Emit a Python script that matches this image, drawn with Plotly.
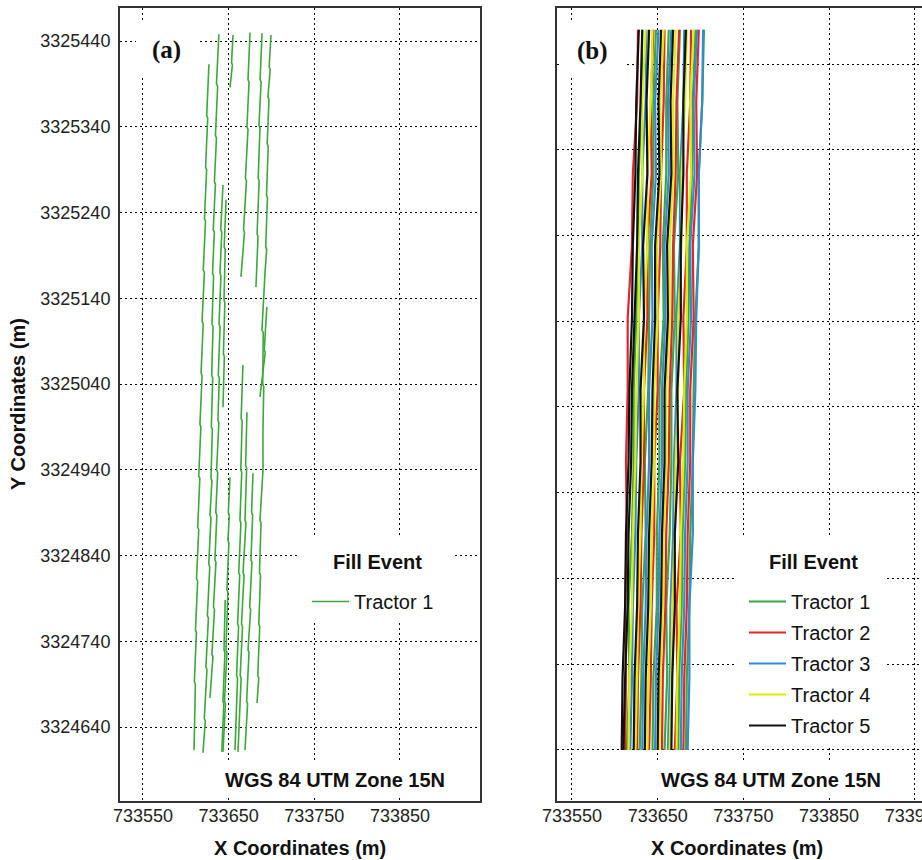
import plotly.graph_objects as go

# ---------------- data ----------------
E0 = 733600      # easting origin of the offset lists (m)
N0 = 3324600     # northing origin of the offset lists (m)

# Panel (a): Tractor 1 fill-event tracks, read from the map
# (easting / northing offsets in m from E0 / N0)
A_T1_N = [813, 753, 750, 693, 690, 633, 630, 573, 570, 513, 510, 453, 450, 393, 390,
          333, 330, 273, 270, 213, 210, 153, 150, 93, 90, 13]
A_T1_E = [27.0, 24.4, 25.6, 23.1, 24.3, 21.8, 23.0, 20.4, 21.7, 19.0, 20.3, 17.8, 19.0,
          16.5, 17.6, 15.1, 16.4, 13.9, 15.1, 12.5, 13.8, 11.3, 12.4, 10.0, 11.2, 9.6]
A_T2_N = [848, 790, 787, 730, 727, 676, 673, 620, 617, 569, 566, 510, 507, 450, 447,
          390, 387, 330, 327, 287, 284, 230, 227, 170, 167, 110, 107, 50, 47, 10]
A_T2_E = [38.6, 35.8, 37.2, 34.6, 35.8, 33.4, 34.6, 32.0, 33.3, 31.2, 32.4, 30.6, 31.8,
          30.2, 31.4, 29.8, 31.0, 29.4, 30.5, 28.2, 29.4, 26.8, 28.0, 25.2, 26.4, 23.5,
          24.7, 21.6, 22.8, 20.0]
A_T3_N = [672, 620, 617, 569, 566, 510, 507, 450, 447, 398, 395, 340, 337, 290, 287,
          235, 232, 180, 177, 125, 122, 74]
A_T3_E = [43.4, 40.8, 42.0, 39.9, 41.0, 38.8, 40.0, 37.9, 39.1, 37.5, 38.6, 36.0, 37.2,
          35.0, 36.2, 34.0, 35.2, 32.3, 33.5, 30.5, 31.7, 28.2]
A_T4_N = [655, 600, 597, 538, 535, 475, 472, 413]
A_T4_E = [47.0, 44.8, 46.0, 44.6, 45.6, 43.9, 45.0, 43.4]
A_T5_N = [331, 290, 287, 258, 255, 200, 197, 130, 127, 70, 67, 11]
A_T5_E = [51.6, 49.6, 50.8, 49.2, 50.3, 48.0, 49.1, 46.9, 48.0, 45.2, 46.3, 43.4]
A_T6_N = [188, 130, 127, 70, 67, 11]
A_T6_E = [46.0, 44.6, 45.7, 43.4, 44.4, 42.0]
A_T7_N = [847, 815, 812, 786]
A_T7_E = [55.1, 53.4, 54.4, 51.6]
A_T8_N = [850, 795, 792, 740, 737, 680, 677, 620, 617, 565]
A_T8_E = [75.0, 72.6, 73.8, 71.4, 72.6, 69.6, 70.8, 67.4, 68.5, 64.4]
A_T9_N = [849, 795, 792, 742, 739, 680, 677, 615, 612, 553]
A_T9_E = [89.0, 86.7, 87.9, 85.4, 86.6, 84.5, 85.6, 83.2, 84.3, 81.9]
A_T10_N = [847, 810, 807, 775, 772, 720, 717, 660, 657, 600, 597, 569, 503, 500, 440,
           437, 380, 340, 281, 278, 220, 217, 160, 157, 100, 97, 68]
A_T10_E = [99.4, 97.3, 98.5, 95.9, 97.1, 95.0, 96.2, 94.2, 95.3, 93.3, 94.4, 92.4, 88.9,
           90.4, 89.8, 91.0, 90.0, 90.1, 86.6, 87.8, 86.0, 87.2, 85.2, 86.3, 84.0, 85.2,
           83.1]
A_T11_N = [530, 480, 477, 425]
A_T11_E = [94.6, 91.6, 92.7, 86.6]
A_T12_N = [462, 400, 397, 340, 337, 281, 278, 220, 217, 160, 157, 100, 97, 40, 13]
A_T12_E = [66.7, 64.6, 65.8, 64.2, 65.3, 63.2, 64.3, 61.8, 62.9, 60.5, 61.6, 59.3, 60.4,
           58.2, 57.4]
A_T13_N = [407, 345, 342, 281, 278, 220, 217, 160, 157, 100, 97, 40, 11]
A_T13_E = [71.4, 69.8, 71.0, 69.1, 70.2, 66.8, 68.0, 65.0, 66.2, 63.5, 64.6, 62.0, 60.9]
A_T14_N = [336, 290, 287, 235, 232, 180, 177, 130, 127, 70, 67, 13]
A_T14_E = [78.4, 76.8, 78.0, 76.1, 77.2, 74.6, 75.7, 72.6, 73.8, 71.0, 72.1, 69.1]

# Panel (b): northing levels (offsets from N0) shared by all tracks
B_LEVELS_N = [12, 96, 180, 264, 348, 432, 516, 600, 684, 768, 852]

# Panel (b): easting offsets (from E0) at each level, per tractor / track
B_TRACTOR1_E = [
    [14, 17, 16, 20, 22, 22, 25, 27, 28, 31, 32],
    [29, 31, 32, 36, 35, 39, 40, 41, 45, 45, 48],
    [44, 45, 49, 49, 52, 52, 57, 56, 60, 60, 63],
    [58, 61, 60, 64, 66, 66, 70, 69, 74, 73, 76],
    [74, 75, 78, 79, 82, 83, 86, 87, 90, 91, 94],
    [83, 84, 87, 88, 91, 92, 94, 98, 98, 102, 104],
]
B_TRACTOR2_E = [
    [12, 13, 12, 14, 13, 15, 15, 20, 21, 26, 27],
    [26, 27, 30, 31, 34, 34, 38, 38, 43, 42, 45],
    [40, 42, 43, 46, 46, 50, 50, 53, 54, 57, 58],
    [55, 56, 59, 60, 63, 64, 67, 68, 71, 72, 75],
    [70, 73, 72, 77, 76, 81, 80, 84, 84, 88, 89],
    [80, 81, 84, 85, 88, 88, 92, 91, 96, 95, 98],
]
B_TRACTOR3_E = [
    [18, 20, 21, 24, 25, 28, 28, 32, 32, 36, 37],
    [32, 33, 36, 37, 40, 40, 44, 43, 48, 47, 51],
    [47, 48, 51, 52, 55, 55, 59, 58, 63, 62, 66],
    [62, 64, 65, 68, 69, 72, 72, 76, 76, 80, 81],
    [77, 78, 81, 82, 85, 85, 89, 88, 93, 92, 96],
    [85, 87, 87, 91, 91, 94, 95, 98, 98, 102, 103],
]
B_TRACTOR4_E = [
    [16, 17, 20, 21, 24, 25, 28, 28, 32, 32, 36],
    [24, 26, 27, 30, 31, 34, 34, 38, 38, 42, 44],
    [38, 39, 42, 43, 46, 46, 50, 49, 54, 53, 57],
    [52, 53, 56, 57, 60, 60, 64, 64, 68, 68, 71],
    [64, 66, 67, 70, 71, 74, 74, 78, 78, 82, 84],
    [72, 73, 76, 77, 80, 81, 84, 84, 89, 88, 92],
]
B_TRACTOR5_E = [
    [8, 9, 12, 13, 16, 17, 20, 21, 24, 25, 28],
    [10, 12, 15, 16, 19, 20, 23, 26, 27, 30, 32],
    [22, 23, 26, 27, 30, 30, 34, 33, 38, 37, 40],
    [35, 36, 39, 40, 43, 44, 47, 47, 52, 51, 54],
    [50, 51, 54, 55, 58, 58, 62, 61, 66, 65, 68],
    [66, 67, 70, 70, 74, 73, 77, 77, 80, 80, 83],
]

TRACTOR_NAMES = ["Tractor 1", "Tractor 2", "Tractor 3", "Tractor 4", "Tractor 5"]
TRACTOR_COLORS = ["#3aa83a", "#e8232a", "#3489cf", "#dcef00", "#111111"]

X_TICKS = [733550, 733650, 733750, 733850, 733950]
X_TICK_TEXT = ["733550", "733650", "733750", "733850", "733950"]
Y_TICKS = [3324640, 3324740, 3324840, 3324940, 3325040, 3325140, 3325240, 3325340, 3325440]
Y_TICK_TEXT = ["3324640", "3324740", "3324840", "3324940", "3325040",
               "3325140", "3325240", "3325340", "3325440"]

A_TRACKS_E = [A_T1_E, A_T2_E, A_T3_E, A_T4_E, A_T5_E, A_T6_E, A_T7_E,
              A_T8_E, A_T9_E, A_T10_E, A_T11_E, A_T12_E, A_T13_E, A_T14_E]
A_TRACKS_N = [A_T1_N, A_T2_N, A_T3_N, A_T4_N, A_T5_N, A_T6_N, A_T7_N,
              A_T8_N, A_T9_N, A_T10_N, A_T11_N, A_T12_N, A_T13_N, A_T14_N]

# ---------------- figure ----------------
W, H = 922, 860


def fx(p):
    return p / W


def fy(p):
    return 1 - p / H


def joined(e_lists, n_lists):
    xs, ys = [], []
    for e, n in zip(e_lists, n_lists):
        xs += [E0 + v for v in e] + [None]
        ys += [N0 + v for v in n] + [None]
    return xs, ys


fig = go.Figure()

ax, ay = joined(A_TRACKS_E, A_TRACKS_N)
fig.add_trace(go.Scatter(x=ax, y=ay, mode="lines", name="Tractor 1",
                         line=dict(color=TRACTOR_COLORS[0], width=1.6),
                         xaxis="x", yaxis="y", legend="legend"))

b_sets = [B_TRACTOR1_E, B_TRACTOR2_E, B_TRACTOR3_E, B_TRACTOR4_E, B_TRACTOR5_E]
for i, (name, col, tracks) in enumerate(zip(TRACTOR_NAMES, TRACTOR_COLORS, b_sets)):
    bx, by = joined(tracks, [B_LEVELS_N] * len(tracks))
    fig.add_trace(go.Scatter(x=bx, y=by, mode="lines", name=name,
                             line=dict(color=col, width=2.2),
                             legendgroup="g%d" % i,
                             xaxis="x2", yaxis="y2", legend="legend2"))

TICKFONT = dict(family="Liberation Sans, Arial, sans-serif", size=18, color="#222")
grid = dict(showgrid=True, gridcolor="black", gridwidth=1.3, griddash="2px,3px",
            zeroline=False, ticks="", ticklen=0, showline=True, linecolor="#333",
            linewidth=2, tickfont=TICKFONT, automargin=False)

LEG = dict(font=dict(size=20, color="#111"), bgcolor="rgba(0,0,0,0)", borderwidth=0,
           xanchor="left", yanchor="top", itemwidth=37, tracegroupgap=2,
           traceorder="grouped")

fig.update_layout(
    width=W, height=H, autosize=False, template="none",
    margin=dict(l=0, r=0, t=0, b=0),
    paper_bgcolor="white", plot_bgcolor="white",
    font=dict(family="Liberation Sans, Arial, sans-serif", color="#111"),
    xaxis=dict(domain=[fx(120), fx(480)], range=[733523.2, 733943.4],
               tickvals=X_TICKS, ticktext=X_TICK_TEXT, mirror=True,
               ticklabelstandoff=-3, anchor="y", **grid),
    yaxis=dict(domain=[fy(801), fy(7.5)], range=[3324553.7, 3325479.1],
               tickvals=Y_TICKS, ticktext=Y_TICK_TEXT, mirror=True,
               ticklabelstandoff=4, anchor="x", **grid),
    xaxis2=dict(domain=[fx(557), 1.0], range=[733532.5, 733958.5],
                tickvals=X_TICKS, ticktext=X_TICK_TEXT, mirror=True,
                ticklabelstandoff=-3, ticklabeloverflow="allow", anchor="y2", **grid),
    yaxis2=dict(domain=[fy(801), fy(7.5)], range=[3324552.5, 3325477.9],
                tick0=3324612, dtick=100, showticklabels=False, mirror=False,
                anchor="x2", **grid),
    showlegend=True,
    legend=dict(x=fx(307), y=fy(582), **LEG),
    legend2=dict(x=fx(744), y=fy(582), **LEG),
)

# white boxes behind labels and legends
for (x0, y0, x1, y1) in [(136, 23, 198, 77), (562, 23, 626, 77),
                         (205, 763, 466, 795), (640, 763, 905, 795),
                         (297, 535, 453, 621), (735, 535, 887, 745)]:
    fig.add_shape(type="rect", xref="paper", yref="paper",
                  x0=fx(x0), x1=fx(x1), y0=fy(y1), y1=fy(y0),
                  fillcolor="white", line=dict(width=0), layer="above")

ann = []
ann.append(dict(text="<b>(a)</b>", x=fx(166), y=fy(50), font=dict(
    family="Liberation Serif, Times New Roman, serif", size=25, color="#111")))
ann.append(dict(text="<b>(b)</b>", x=fx(592), y=fy(51), font=dict(
    family="Liberation Serif, Times New Roman, serif", size=25, color="#111")))
ann.append(dict(text="<b>Fill Event</b>", x=fx(377), y=fy(562),
                font=dict(size=20, color="#111")))
ann.append(dict(text="<b>Fill Event</b>", x=fx(813), y=fy(562),
                font=dict(size=20, color="#111")))
ann.append(dict(text="<b>WGS 84 UTM Zone 15N</b>", x=fx(335), y=fy(780),
                font=dict(size=20, color="#111")))
ann.append(dict(text="<b>WGS 84 UTM Zone 15N</b>", x=fx(771), y=fy(780),
                font=dict(size=20, color="#111")))
ann.append(dict(text="<b>X Coordinates (m)</b>", x=fx(300), y=fy(848),
                font=dict(size=20, color="#111")))
ann.append(dict(text="<b>X Coordinates (m)</b>", x=fx(737), y=fy(848),
                font=dict(size=20, color="#111")))
ann.append(dict(text="<b>Y Coordinates (m)</b>", x=fx(18), y=fy(404), textangle=-90,
                font=dict(size=20, color="#111")))
for a in ann:
    a.update(xref="paper", yref="paper", showarrow=False, xanchor="center", yanchor="middle")
    fig.add_annotation(**a)

fig.write_html("out.html", config={"displayModeBar": False},
               post_script="document.body.style.margin='0px';")
